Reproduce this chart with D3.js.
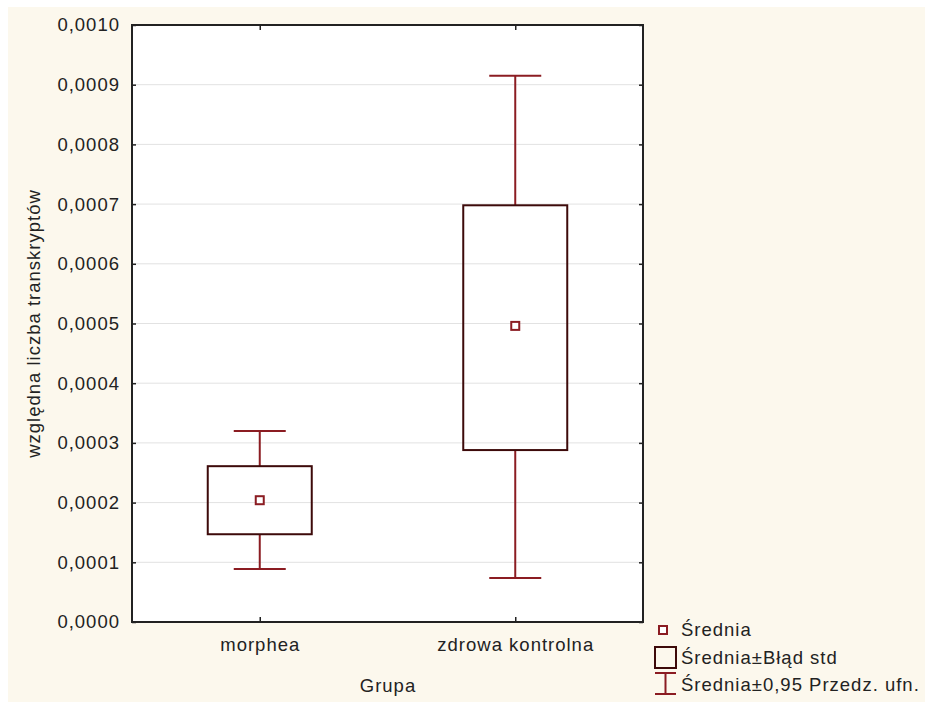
<!DOCTYPE html>
<html>
<head>
<meta charset="utf-8">
<script src="https://cdn.jsdelivr.net/npm/d3@7"></script>
<style>
  body { margin: 0; background: #fff; }
  svg text { font-family: "Liberation Sans", Arial, sans-serif; font-size: 18.5px; letter-spacing: 1px; fill: #222; }
</style>
</head>
<body>
<div id="vis"></div>
<script>
const FRAME_WIDTH = 925;
const FRAME_HEIGHT = 702;
const MARGINS = {left: 132, right: 282, top: 25, bottom: 80};

const VIS_WIDTH = FRAME_WIDTH - MARGINS.left - MARGINS.right;
const VIS_HEIGHT = FRAME_HEIGHT - MARGINS.top - MARGINS.bottom;

// data
const groups = ["morphea", "zdrowa kontrolna"];
const means = [0.000204, 0.000496];
const seLow = [0.000147, 0.000288];
const seHigh = [0.000261, 0.000698];
const ciLow = [0.0000888, 0.0000737];
const ciHigh = [0.000320, 0.000915];
const yTicks = [0, 0.0001, 0.0002, 0.0003, 0.0004, 0.0005, 0.0006, 0.0007, 0.0008, 0.0009, 0.0010];
const legendLabels = ["Średnia", "Średnia±Błąd std", "Średnia±0,95 Przedz. ufn."];

const BOX_COLOR = "#3d0a0a";
const WHISKER_COLOR = "#8b1c22";

const data = groups.map((g, i) => ({
  group: g, mean: means[i], lo: seLow[i], hi: seHigh[i], ciLo: ciLow[i], ciHi: ciHigh[i]
}));

const FRAME = d3.select("#vis")
  .append("svg")
    .attr("width", FRAME_WIDTH)
    .attr("height", FRAME_HEIGHT);

// beige background
FRAME.append("rect")
  .attr("x", 8).attr("y", 7)
  .attr("width", FRAME_WIDTH - 8).attr("height", FRAME_HEIGHT - 7)
  .attr("fill", "#fcf8ed");

const X_SCALE = d3.scalePoint()
  .domain(groups)
  .range([0, VIS_WIDTH])
  .padding(0.5);

const Y_SCALE = d3.scaleLinear()
  .domain([0, 0.0010])
  .range([VIS_HEIGHT, 0]);

const g = FRAME.append("g")
  .attr("transform", "translate(" + MARGINS.left + "," + MARGINS.top + ")");

g.append("rect")
  .attr("width", VIS_WIDTH).attr("height", VIS_HEIGHT)
  .attr("fill", "#fff");

// grid lines
g.selectAll(".grid")
  .data(yTicks.slice(1, -1))
  .enter()
  .append("line")
    .attr("x1", 0).attr("x2", VIS_WIDTH)
    .attr("y1", d => Y_SCALE(d)).attr("y2", d => Y_SCALE(d))
    .attr("stroke", "#e2e2e2")
    .attr("stroke-width", 1);

const fmt = d => d3.format(".4f")(d).replace(".", ",");

// axes
const yAxis = g.append("g")
  .call(d3.axisLeft(Y_SCALE).tickValues(yTicks).tickFormat(fmt).tickSizeInner(-4).tickSizeOuter(0).tickPadding(12));
const yAxisR = g.append("g")
  .attr("transform", "translate(" + VIS_WIDTH + ",0)")
  .call(d3.axisRight(Y_SCALE).tickValues(yTicks).tickFormat("").tickSizeInner(-4).tickSizeOuter(0));
const xAxis = g.append("g")
  .attr("transform", "translate(0," + VIS_HEIGHT + ")")
  .call(d3.axisBottom(X_SCALE).tickSizeInner(-5).tickSizeOuter(0).tickPadding(16));
const xAxisT = g.append("g")
  .call(d3.axisTop(X_SCALE).tickFormat("").tickSizeInner(-5).tickSizeOuter(0));

[yAxis, yAxisR, xAxis, xAxisT].forEach(a => {
  a.select(".domain").remove();
  a.selectAll("line").attr("stroke", "#222").attr("stroke-width", 1.5);
});

g.append("rect")
  .attr("width", VIS_WIDTH).attr("height", VIS_HEIGHT)
  .attr("fill", "none")
  .attr("stroke", "#222")
  .attr("stroke-width", 2);

// whiskers
const boxW = 104, capW = 52;
data.forEach(d => {
  const cx = X_SCALE(d.group);
  const wg = g.append("g").attr("stroke", WHISKER_COLOR).attr("stroke-width", 2);
  wg.append("line").attr("x1", cx).attr("x2", cx).attr("y1", Y_SCALE(d.ciHi)).attr("y2", Y_SCALE(d.hi));
  wg.append("line").attr("x1", cx).attr("x2", cx).attr("y1", Y_SCALE(d.lo)).attr("y2", Y_SCALE(d.ciLo));
  wg.append("line").attr("x1", cx - capW / 2).attr("x2", cx + capW / 2).attr("y1", Y_SCALE(d.ciHi)).attr("y2", Y_SCALE(d.ciHi));
  wg.append("line").attr("x1", cx - capW / 2).attr("x2", cx + capW / 2).attr("y1", Y_SCALE(d.ciLo)).attr("y2", Y_SCALE(d.ciLo));
});

// boxes
g.selectAll(".box")
  .data(data)
  .enter()
  .append("rect")
    .attr("x", d => X_SCALE(d.group) - boxW / 2)
    .attr("y", d => Y_SCALE(d.hi))
    .attr("width", boxW)
    .attr("height", d => Y_SCALE(d.lo) - Y_SCALE(d.hi))
    .attr("fill", "none")
    .attr("stroke", BOX_COLOR)
    .attr("stroke-width", 2);

// means
g.selectAll(".mean")
  .data(data)
  .enter()
  .append("rect")
    .attr("x", d => X_SCALE(d.group) - 4)
    .attr("y", d => Y_SCALE(d.mean) - 4)
    .attr("width", 8).attr("height", 8)
    .attr("fill", "#fff")
    .attr("stroke", WHISKER_COLOR)
    .attr("stroke-width", 2);

// axis titles
FRAME.append("text")
  .attr("transform", "translate(40," + (MARGINS.top + VIS_HEIGHT / 2) + ") rotate(-90)")
  .attr("text-anchor", "middle")
  .text("względna liczba transkryptów");

FRAME.append("text")
  .attr("x", 388).attr("y", 692)
  .attr("text-anchor", "middle")
  .text("Grupa");

// legend
const legend = FRAME.append("g");
legend.append("rect")
  .attr("x", 659).attr("y", 626).attr("width", 8).attr("height", 8)
  .attr("fill", "#fff").attr("stroke", WHISKER_COLOR).attr("stroke-width", 2);
legend.append("rect")
  .attr("x", 655).attr("y", 647).attr("width", 21).attr("height", 21)
  .attr("fill", "none").attr("stroke", BOX_COLOR).attr("stroke-width", 2);
const lg = legend.append("g").attr("stroke", WHISKER_COLOR).attr("stroke-width", 2);
lg.append("line").attr("x1", 655).attr("x2", 676).attr("y1", 673).attr("y2", 673);
lg.append("line").attr("x1", 655).attr("x2", 676).attr("y1", 694).attr("y2", 694);
lg.append("line").attr("x1", 665.5).attr("x2", 665.5).attr("y1", 673).attr("y2", 694);

legend.selectAll(".ltext")
  .data(legendLabels)
  .enter()
  .append("text")
    .attr("x", 681)
    .attr("y", (d, i) => 636 + i * 27.5)
    .text(d => d);
</script>
</body>
</html>
